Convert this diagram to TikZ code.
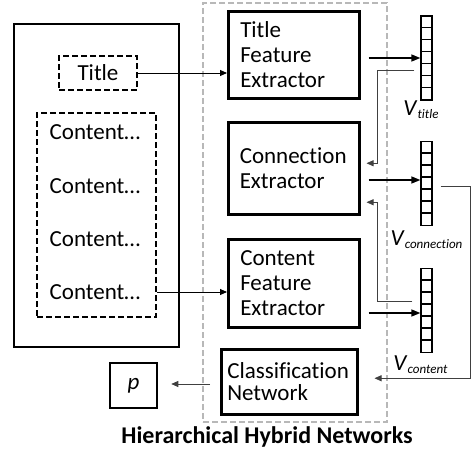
\documentclass[tikz,border=0pt]{standalone}
\usepackage{fontspec}
\setmainfont[Ligatures=NoCommon]{Carlito}
\usetikzlibrary{arrows.meta,calc}
\newcommand\vlabel[1]{\textit{V}{\fontsize{13}{13}\selectfont\raisebox{-3pt}{\textit{#1}}}}
\begin{document}
\begin{tikzpicture}[x=1pt,y=-1pt,
  font=\fontsize{23}{25}\selectfont,
  box/.style={draw,line width=2.5pt,rectangle,inner sep=0pt},
  dbox/.style={draw,line width=2pt,dash pattern=on 6pt off 3pt,rectangle,inner sep=0pt},
  netbox/.style={draw,line width=2.5pt,rectangle,align=left,inner ysep=0pt,anchor=north west},
  gbox/.style={draw=black!28,line width=1.5pt,dash pattern=on 6pt off 3pt,rectangle,inner sep=0pt},
  vec/.style={draw,line width=1.3pt,rectangle,inner sep=0pt,minimum width=11pt,minimum height=84pt},
  txt/.style={inner sep=0pt},
  arr/.style={-{Triangle[length=7pt,width=6pt]},line width=0.9pt},
  arrT/.style={-{Triangle[length=9pt,width=7pt]},line width=1.5pt},
  fb/.style={-{Triangle[length=7pt,width=6pt]},line width=0.8pt,black!75}]
\useasboundingbox (0,0) rectangle (474,450);

% hierarchical hybrid networks frame
\node[gbox,minimum width=184pt,minimum height=419pt] (hhn) at (295,212.5) {};
\node[txt,font=\bfseries\fontsize{24}{24}\selectfont] (lbl) at (267,437) {Hierarchical Hybrid Networks};

% document
\node[box,minimum width=165pt,minimum height=323pt] (doc) at (96.5,185.5) {};
\node[dbox,minimum width=78pt,minimum height=34pt] (title) at (98,73) {Title};
\node[dbox,minimum width=119pt,minimum height=204pt] (contents) at (96.5,215) {};
\node[txt] (c1) at (95,132) {Content…};
\node[txt] (c2) at (95,186) {Content…};
\node[txt] (c3) at (95,239) {Content…};
\node[txt] (c4) at (95,292) {Content…};

% networks
\node[netbox,minimum width=131pt,minimum height=87pt,inner xsep=12pt,text width=107pt] (tfe) at (227,10) {Title\\Feature\\Extractor};
\node[netbox,minimum width=131pt,minimum height=92pt,inner xsep=11.5pt,text width=108pt] (conn) at (227,121) {Connection\\Extractor};
\node[netbox,minimum width=131pt,minimum height=88pt,inner xsep=12pt,text width=107pt] (cfe) at (227,238) {Content\\Feature\\Extractor};
\node[netbox,minimum width=136pt,minimum height=65pt,inner xsep=6pt,text width=124pt,font=\fontsize{23}{22}\selectfont] (cls) at (220,348) {Classification\\Network};
\node[box,minimum width=47pt,minimum height=45pt] (p) at (133.5,385.5) {\textit{p}};

% vectors
\node[vec] (vt) at (426.5,58) {};
\node[vec] (vc) at (426.5,183.5) {};
\node[vec] (vco) at (426.5,310.5) {};
\foreach \v in {vt,vc,vco}{
  \foreach \i in {1,...,6}{
    \draw[line width=1.3pt] ($(\v.north west)+(0,\i*12)$) -- ($(\v.north east)+(0,\i*12)$);
  }
}
\node[txt] (lt) at (421,110) {\vlabel{title}};
\node[txt] (lc) at (426.5,240) {\vlabel{connection}};
\node[txt] (lco) at (420.5,365) {\vlabel{content}};

% connectors
\draw[arr] (title.east) -- (title.east -| tfe.west);
\draw[arr] (c4.east -| contents.east) -- (c4.east -| cfe.west);
\draw[arrT] ($(vt.west -| tfe.east)+(8,0)$) -- (vt.west);
\draw[arrT] ($(vc.west -| conn.east)+(8,-3.5)$) -- ($(vc.west)+(0,-3.5)$);
\draw[arrT] ($(vco.west -| cfe.east)+(8,2.5)$) -- ($(vco.west)+(0,2.5)$);

\coordinate (bx) at (377,0);
\coordinate (rx) at (470,0);
\coordinate (f1) at ($(conn.east)+(6,-5)$);
\coordinate (f2) at ($(conn.east)+(6,34)$);
\coordinate (f3) at ($(cls.east)+(16,-3.5)$);
\draw[fb] ($(vt.west)+(-6,12)$) -| (bx |- f1) -- (f1);
\draw[fb] ($(vco.west)+(-8,-9.5)$) -| (bx |- f2) -- (f2);
\draw[fb] ($(vc.east)+(8,2.5)$) -| (rx |- f3) -- (f3);
\draw[fb] ($(p.east -| cls.west)+(-10,-1.5)$) -- ($(p.east)+(13,-1.5)$);
\end{tikzpicture}
\end{document}
